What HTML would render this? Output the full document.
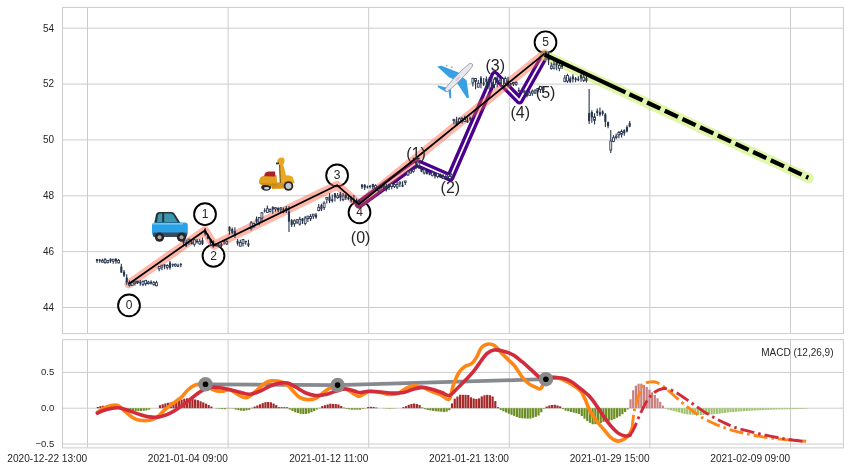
<!DOCTYPE html>
<html><head><meta charset="utf-8"><style>
html,body{margin:0;padding:0;background:#fff;}
svg{display:block;filter:blur(0.45px);}
.ty{font-family:"Liberation Sans",sans-serif;font-size:9.5px;fill:#262626;}
.tx{font-family:"Liberation Sans",sans-serif;font-size:10.15px;fill:#262626;}
.t{font-family:"Liberation Sans",sans-serif;font-size:10px;fill:#262626;}
.c{font-family:"Liberation Sans",sans-serif;font-size:12px;fill:#262626;}
.p{font-family:"Liberation Sans",sans-serif;font-size:16px;fill:#262626;}
</style></head><body>
<svg width="849" height="471" viewBox="0 0 849 471">
<rect width="849" height="471" fill="#fff"/>
<rect x="62.5" y="7.4" width="780.9" height="326.20000000000005" fill="#fff" stroke="#cccccc" stroke-width="1"/>
<line x1="87.5" y1="7.4" x2="87.5" y2="333.6" stroke="#cccccc" stroke-width="1"/>
<line x1="228.1" y1="7.4" x2="228.1" y2="333.6" stroke="#cccccc" stroke-width="1"/>
<line x1="368.7" y1="7.4" x2="368.7" y2="333.6" stroke="#cccccc" stroke-width="1"/>
<line x1="509.3" y1="7.4" x2="509.3" y2="333.6" stroke="#cccccc" stroke-width="1"/>
<line x1="649.9" y1="7.4" x2="649.9" y2="333.6" stroke="#cccccc" stroke-width="1"/>
<line x1="790.5" y1="7.4" x2="790.5" y2="333.6" stroke="#cccccc" stroke-width="1"/>
<line x1="62.5" y1="28.2" x2="843.4" y2="28.2" stroke="#cccccc" stroke-width="1"/>
<line x1="62.5" y1="84.1" x2="843.4" y2="84.1" stroke="#cccccc" stroke-width="1"/>
<line x1="62.5" y1="139.9" x2="843.4" y2="139.9" stroke="#cccccc" stroke-width="1"/>
<line x1="62.5" y1="195.8" x2="843.4" y2="195.8" stroke="#cccccc" stroke-width="1"/>
<line x1="62.5" y1="251.6" x2="843.4" y2="251.6" stroke="#cccccc" stroke-width="1"/>
<line x1="62.5" y1="307.5" x2="843.4" y2="307.5" stroke="#cccccc" stroke-width="1"/>
<rect x="62.5" y="339.7" width="780.9" height="108.19999999999999" fill="#fff" stroke="#cccccc" stroke-width="1"/>
<line x1="87.5" y1="339.7" x2="87.5" y2="447.9" stroke="#cccccc" stroke-width="1"/>
<line x1="228.1" y1="339.7" x2="228.1" y2="447.9" stroke="#cccccc" stroke-width="1"/>
<line x1="368.7" y1="339.7" x2="368.7" y2="447.9" stroke="#cccccc" stroke-width="1"/>
<line x1="509.3" y1="339.7" x2="509.3" y2="447.9" stroke="#cccccc" stroke-width="1"/>
<line x1="649.9" y1="339.7" x2="649.9" y2="447.9" stroke="#cccccc" stroke-width="1"/>
<line x1="790.5" y1="339.7" x2="790.5" y2="447.9" stroke="#cccccc" stroke-width="1"/>
<line x1="62.5" y1="372.4" x2="843.4" y2="372.4" stroke="#cccccc" stroke-width="1"/>
<line x1="62.5" y1="408.2" x2="843.4" y2="408.2" stroke="#cccccc" stroke-width="1"/>
<line x1="62.5" y1="444.0" x2="843.4" y2="444.0" stroke="#cccccc" stroke-width="1"/>
<text x="54" y="31.50" text-anchor="end" class="t">54</text>
<text x="54" y="87.36" text-anchor="end" class="t">52</text>
<text x="54" y="143.22" text-anchor="end" class="t">50</text>
<text x="54" y="199.08" text-anchor="end" class="t">48</text>
<text x="54" y="254.94" text-anchor="end" class="t">46</text>
<text x="54" y="310.80" text-anchor="end" class="t">44</text>
<text transform="translate(54.3,375.30) scale(1,1)" text-anchor="end" class="ty">0.5</text>
<text transform="translate(54.3,411.10) scale(1,1)" text-anchor="end" class="ty">0.0</text>
<text transform="translate(54.3,446.90) scale(1,1)" text-anchor="end" class="ty">−0.5</text>
<text transform="translate(87.20,462.4) scale(1,1)" text-anchor="end" class="tx">2020-12-22 13:00</text>
<text transform="translate(227.80,462.4) scale(1,1)" text-anchor="end" class="tx">2021-01-04 09:00</text>
<text transform="translate(368.40,462.4) scale(1,1)" text-anchor="end" class="tx">2021-01-12 11:00</text>
<text transform="translate(509.00,462.4) scale(1,1)" text-anchor="end" class="tx">2021-01-21 13:00</text>
<text transform="translate(649.60,462.4) scale(1,1)" text-anchor="end" class="tx">2021-01-29 15:00</text>
<text transform="translate(790.20,462.4) scale(1,1)" text-anchor="end" class="tx">2021-02-09 09:00</text>
<text x="833.5" y="355.5" text-anchor="end" class="t">MACD (12,26,9)</text>
<circle cx="129" cy="305.4" r="10.9" fill="#fff" stroke="#000" stroke-width="1.9"/>
<circle cx="205" cy="214.2" r="10.9" fill="#fff" stroke="#000" stroke-width="1.9"/>
<circle cx="213.5" cy="255.8" r="10.9" fill="#fff" stroke="#000" stroke-width="1.9"/>
<circle cx="337.1" cy="175.4" r="10.9" fill="#fff" stroke="#000" stroke-width="1.9"/>
<circle cx="359.5" cy="212.4" r="10.9" fill="#fff" stroke="#000" stroke-width="1.9"/>
<circle cx="545.5" cy="42.3" r="10.9" fill="#fff" stroke="#000" stroke-width="1.9"/>
<polyline points="359,204.3 416.5,162.8 450.2,177.5 494.8,75 519.5,100.3 545,55" fill="none" stroke="#4a008e" stroke-width="8.4" stroke-linejoin="round" stroke-linecap="round"/>
<polyline points="359,204.3 416.5,162.8 450.2,177.5 494.8,75 519.5,100.3 545,55" fill="none" stroke="#fff" stroke-width="1.8" stroke-linejoin="round" stroke-linecap="round"/>
<polyline points="128.7,284 204.9,230.5 214,245.3 337,185.2 359,204.3 544.6,53.6" fill="none" stroke="#ff5a3c" stroke-opacity="0.44" stroke-width="8.8" stroke-linejoin="round" stroke-linecap="round"/>
<line x1="545" y1="55.4" x2="808.7" y2="178.3" stroke="#c2f058" stroke-opacity="0.5" stroke-width="10" stroke-linecap="round"/>
<line x1="97.00" y1="259.0" x2="97.00" y2="262.9" stroke="#26344e" stroke-width="1.1"/>
<rect x="95.95" y="259.1" width="2.1" height="1.9" fill="#26344e"/>
<line x1="99.70" y1="259.2" x2="99.70" y2="262.8" stroke="#26344e" stroke-width="1.1"/>
<rect x="98.65" y="259.3" width="2.1" height="1.5" fill="#26344e"/>
<line x1="102.41" y1="258.8" x2="102.41" y2="262.5" stroke="#26344e" stroke-width="1.1"/>
<rect x="101.46" y="260.6" width="1.9" height="1.5" fill="#fff" stroke="#26344e" stroke-width="0.85"/>
<line x1="105.11" y1="258.0" x2="105.11" y2="263.7" stroke="#26344e" stroke-width="1.1"/>
<rect x="104.16" y="259.4" width="1.9" height="3.3" fill="#fff" stroke="#26344e" stroke-width="0.85"/>
<line x1="107.82" y1="260.1" x2="107.82" y2="263.6" stroke="#26344e" stroke-width="1.1"/>
<rect x="106.87" y="260.5" width="1.9" height="2.0" fill="#fff" stroke="#26344e" stroke-width="0.85"/>
<line x1="110.52" y1="258.4" x2="110.52" y2="262.9" stroke="#26344e" stroke-width="1.1"/>
<rect x="109.47" y="258.8" width="2.1" height="2.4" fill="#26344e"/>
<line x1="113.22" y1="259.0" x2="113.22" y2="263.8" stroke="#26344e" stroke-width="1.1"/>
<rect x="112.27" y="259.2" width="1.9" height="2.1" fill="#fff" stroke="#26344e" stroke-width="0.85"/>
<line x1="115.93" y1="257.9" x2="115.93" y2="263.7" stroke="#26344e" stroke-width="1.1"/>
<rect x="114.88" y="259.0" width="2.1" height="2.3" fill="#26344e"/>
<line x1="118.63" y1="258.9" x2="118.63" y2="263.4" stroke="#26344e" stroke-width="1.1"/>
<rect x="117.68" y="260.4" width="1.9" height="2.4" fill="#fff" stroke="#26344e" stroke-width="0.85"/>
<line x1="121.34" y1="263.7" x2="121.34" y2="273.0" stroke="#26344e" stroke-width="1.1"/>
<rect x="120.29" y="266.6" width="2.1" height="5.9" fill="#26344e"/>
<line x1="124.04" y1="270.1" x2="124.04" y2="277.1" stroke="#26344e" stroke-width="1.1"/>
<rect x="122.99" y="271.8" width="2.1" height="3.9" fill="#26344e"/>
<line x1="126.74" y1="274.3" x2="126.74" y2="284.8" stroke="#26344e" stroke-width="1.1"/>
<rect x="125.69" y="277.6" width="2.1" height="4.8" fill="#26344e"/>
<line x1="129.45" y1="280.4" x2="129.45" y2="286.4" stroke="#26344e" stroke-width="1.1"/>
<rect x="128.50" y="282.7" width="1.9" height="2.5" fill="#fff" stroke="#26344e" stroke-width="0.85"/>
<line x1="132.15" y1="280.7" x2="132.15" y2="285.8" stroke="#26344e" stroke-width="1.1"/>
<rect x="131.20" y="282.4" width="1.9" height="3.0" fill="#fff" stroke="#26344e" stroke-width="0.85"/>
<line x1="134.86" y1="280.3" x2="134.86" y2="285.4" stroke="#26344e" stroke-width="1.1"/>
<rect x="133.91" y="282.0" width="1.9" height="1.3" fill="#fff" stroke="#26344e" stroke-width="0.85"/>
<line x1="137.56" y1="280.9" x2="137.56" y2="284.1" stroke="#26344e" stroke-width="1.1"/>
<rect x="136.61" y="281.1" width="1.9" height="1.7" fill="#fff" stroke="#26344e" stroke-width="0.85"/>
<line x1="140.26" y1="280.0" x2="140.26" y2="285.8" stroke="#26344e" stroke-width="1.1"/>
<rect x="139.21" y="281.8" width="2.1" height="1.6" fill="#26344e"/>
<line x1="142.97" y1="280.6" x2="142.97" y2="286.3" stroke="#26344e" stroke-width="1.1"/>
<rect x="142.02" y="281.3" width="1.9" height="3.1" fill="#fff" stroke="#26344e" stroke-width="0.85"/>
<line x1="145.67" y1="279.9" x2="145.67" y2="285.8" stroke="#26344e" stroke-width="1.1"/>
<rect x="144.72" y="280.3" width="1.9" height="3.4" fill="#fff" stroke="#26344e" stroke-width="0.85"/>
<line x1="148.38" y1="280.8" x2="148.38" y2="284.6" stroke="#26344e" stroke-width="1.1"/>
<rect x="147.43" y="282.1" width="1.9" height="1.6" fill="#fff" stroke="#26344e" stroke-width="0.85"/>
<line x1="151.08" y1="280.2" x2="151.08" y2="284.6" stroke="#26344e" stroke-width="1.1"/>
<rect x="150.03" y="281.8" width="2.1" height="1.7" fill="#26344e"/>
<line x1="153.78" y1="280.9" x2="153.78" y2="285.6" stroke="#26344e" stroke-width="1.1"/>
<rect x="152.83" y="282.6" width="1.9" height="2.2" fill="#fff" stroke="#26344e" stroke-width="0.85"/>
<line x1="156.49" y1="280.7" x2="156.49" y2="286.2" stroke="#26344e" stroke-width="1.1"/>
<rect x="155.54" y="282.7" width="1.9" height="3.1" fill="#fff" stroke="#26344e" stroke-width="0.85"/>
<line x1="159.19" y1="266.3" x2="159.19" y2="271.3" stroke="#26344e" stroke-width="1.1"/>
<rect x="158.24" y="266.4" width="1.9" height="2.4" fill="#fff" stroke="#26344e" stroke-width="0.85"/>
<line x1="161.90" y1="265.0" x2="161.90" y2="270.3" stroke="#26344e" stroke-width="1.1"/>
<rect x="160.95" y="265.2" width="1.9" height="2.0" fill="#fff" stroke="#26344e" stroke-width="0.85"/>
<line x1="164.60" y1="264.3" x2="164.60" y2="269.3" stroke="#26344e" stroke-width="1.1"/>
<rect x="163.55" y="264.4" width="2.1" height="1.9" fill="#26344e"/>
<line x1="167.30" y1="264.3" x2="167.30" y2="269.6" stroke="#26344e" stroke-width="1.1"/>
<rect x="166.35" y="265.5" width="1.9" height="1.8" fill="#fff" stroke="#26344e" stroke-width="0.85"/>
<line x1="170.01" y1="261.0" x2="170.01" y2="269.6" stroke="#26344e" stroke-width="1.1"/>
<rect x="168.96" y="262.6" width="2.1" height="5.2" fill="#26344e"/>
<line x1="172.71" y1="263.6" x2="172.71" y2="266.9" stroke="#26344e" stroke-width="1.1"/>
<rect x="171.66" y="264.1" width="2.1" height="1.2" fill="#26344e"/>
<line x1="175.42" y1="263.6" x2="175.42" y2="266.6" stroke="#26344e" stroke-width="1.1"/>
<rect x="174.47" y="264.2" width="1.9" height="1.8" fill="#fff" stroke="#26344e" stroke-width="0.85"/>
<line x1="178.12" y1="263.8" x2="178.12" y2="266.9" stroke="#26344e" stroke-width="1.1"/>
<rect x="177.07" y="265.5" width="2.1" height="1.3" fill="#26344e"/>
<line x1="180.82" y1="263.3" x2="180.82" y2="267.2" stroke="#26344e" stroke-width="1.1"/>
<rect x="179.77" y="263.7" width="2.1" height="1.5" fill="#26344e"/>
<line x1="183.53" y1="239.4" x2="183.53" y2="246.4" stroke="#26344e" stroke-width="1.1"/>
<rect x="182.48" y="240.4" width="2.1" height="2.5" fill="#26344e"/>
<line x1="186.23" y1="239.7" x2="186.23" y2="246.9" stroke="#26344e" stroke-width="1.1"/>
<rect x="185.18" y="242.5" width="2.1" height="3.8" fill="#26344e"/>
<line x1="188.94" y1="239.0" x2="188.94" y2="244.9" stroke="#26344e" stroke-width="1.1"/>
<rect x="187.99" y="239.1" width="1.9" height="2.2" fill="#fff" stroke="#26344e" stroke-width="0.85"/>
<line x1="191.64" y1="239.3" x2="191.64" y2="244.2" stroke="#26344e" stroke-width="1.1"/>
<rect x="190.59" y="241.7" width="2.1" height="2.4" fill="#26344e"/>
<line x1="194.34" y1="238.6" x2="194.34" y2="246.4" stroke="#26344e" stroke-width="1.1"/>
<rect x="193.39" y="239.8" width="1.9" height="4.5" fill="#fff" stroke="#26344e" stroke-width="0.85"/>
<line x1="197.05" y1="238.9" x2="197.05" y2="243.4" stroke="#26344e" stroke-width="1.1"/>
<rect x="196.00" y="240.8" width="2.1" height="1.5" fill="#26344e"/>
<line x1="199.75" y1="239.0" x2="199.75" y2="244.7" stroke="#26344e" stroke-width="1.1"/>
<rect x="198.80" y="241.3" width="1.9" height="2.7" fill="#fff" stroke="#26344e" stroke-width="0.85"/>
<line x1="202.46" y1="237.6" x2="202.46" y2="245.0" stroke="#26344e" stroke-width="1.1"/>
<rect x="201.41" y="240.2" width="2.1" height="3.9" fill="#26344e"/>
<line x1="205.16" y1="227.9" x2="205.16" y2="235.7" stroke="#26344e" stroke-width="1.1"/>
<rect x="204.11" y="229.2" width="2.1" height="5.1" fill="#26344e"/>
<line x1="207.86" y1="234.0" x2="207.86" y2="239.3" stroke="#26344e" stroke-width="1.1"/>
<rect x="206.81" y="235.6" width="2.1" height="3.2" fill="#26344e"/>
<line x1="210.57" y1="238.7" x2="210.57" y2="245.5" stroke="#26344e" stroke-width="1.1"/>
<rect x="209.52" y="239.0" width="2.1" height="3.9" fill="#26344e"/>
<line x1="213.27" y1="240.3" x2="213.27" y2="247.8" stroke="#26344e" stroke-width="1.1"/>
<rect x="212.22" y="241.2" width="2.1" height="5.5" fill="#26344e"/>
<line x1="215.98" y1="242.9" x2="215.98" y2="246.6" stroke="#26344e" stroke-width="1.1"/>
<rect x="215.03" y="243.9" width="1.9" height="1.3" fill="#fff" stroke="#26344e" stroke-width="0.85"/>
<line x1="218.68" y1="243.8" x2="218.68" y2="246.9" stroke="#26344e" stroke-width="1.1"/>
<rect x="217.63" y="244.9" width="2.1" height="1.3" fill="#26344e"/>
<line x1="221.38" y1="242.7" x2="221.38" y2="247.2" stroke="#26344e" stroke-width="1.1"/>
<rect x="220.33" y="244.1" width="2.1" height="1.9" fill="#26344e"/>
<line x1="224.09" y1="240.2" x2="224.09" y2="244.6" stroke="#26344e" stroke-width="1.1"/>
<rect x="223.04" y="240.2" width="2.1" height="1.4" fill="#26344e"/>
<line x1="226.79" y1="240.3" x2="226.79" y2="244.9" stroke="#26344e" stroke-width="1.1"/>
<rect x="225.84" y="241.6" width="1.9" height="2.3" fill="#fff" stroke="#26344e" stroke-width="0.85"/>
<line x1="229.50" y1="226.3" x2="229.50" y2="234.7" stroke="#26344e" stroke-width="1.1"/>
<rect x="228.45" y="226.8" width="2.1" height="4.4" fill="#26344e"/>
<line x1="232.20" y1="227.5" x2="232.20" y2="234.3" stroke="#26344e" stroke-width="1.1"/>
<rect x="231.15" y="229.1" width="2.1" height="3.6" fill="#26344e"/>
<line x1="234.90" y1="227.3" x2="234.90" y2="237.8" stroke="#26344e" stroke-width="1.1"/>
<rect x="233.85" y="231.1" width="2.1" height="4.2" fill="#26344e"/>
<line x1="237.61" y1="238.9" x2="237.61" y2="245.4" stroke="#26344e" stroke-width="1.1"/>
<rect x="236.56" y="240.9" width="2.1" height="2.7" fill="#26344e"/>
<line x1="240.31" y1="239.7" x2="240.31" y2="246.3" stroke="#26344e" stroke-width="1.1"/>
<rect x="239.36" y="242.5" width="1.9" height="3.7" fill="#fff" stroke="#26344e" stroke-width="0.85"/>
<line x1="243.02" y1="238.9" x2="243.02" y2="246.5" stroke="#26344e" stroke-width="1.1"/>
<rect x="242.07" y="239.4" width="1.9" height="4.1" fill="#fff" stroke="#26344e" stroke-width="0.85"/>
<line x1="245.72" y1="240.7" x2="245.72" y2="244.7" stroke="#26344e" stroke-width="1.1"/>
<rect x="244.67" y="240.9" width="2.1" height="1.4" fill="#26344e"/>
<line x1="248.42" y1="239.7" x2="248.42" y2="247.1" stroke="#26344e" stroke-width="1.1"/>
<rect x="247.37" y="243.4" width="2.1" height="2.2" fill="#26344e"/>
<line x1="251.13" y1="220.9" x2="251.13" y2="230.5" stroke="#26344e" stroke-width="1.1"/>
<rect x="250.18" y="222.8" width="1.9" height="5.6" fill="#fff" stroke="#26344e" stroke-width="0.85"/>
<line x1="253.83" y1="222.7" x2="253.83" y2="227.7" stroke="#26344e" stroke-width="1.1"/>
<rect x="252.88" y="223.4" width="1.9" height="3.4" fill="#fff" stroke="#26344e" stroke-width="0.85"/>
<line x1="256.54" y1="216.5" x2="256.54" y2="223.4" stroke="#26344e" stroke-width="1.1"/>
<rect x="255.49" y="218.7" width="2.1" height="2.8" fill="#26344e"/>
<line x1="259.24" y1="217.0" x2="259.24" y2="225.3" stroke="#26344e" stroke-width="1.1"/>
<rect x="258.29" y="217.5" width="1.9" height="4.7" fill="#fff" stroke="#26344e" stroke-width="0.85"/>
<line x1="261.94" y1="212.1" x2="261.94" y2="221.0" stroke="#26344e" stroke-width="1.1"/>
<rect x="260.99" y="212.8" width="1.9" height="5.3" fill="#fff" stroke="#26344e" stroke-width="0.85"/>
<line x1="264.65" y1="208.2" x2="264.65" y2="212.4" stroke="#26344e" stroke-width="1.1"/>
<rect x="263.60" y="210.3" width="2.1" height="1.1" fill="#26344e"/>
<line x1="267.35" y1="205.6" x2="267.35" y2="213.1" stroke="#26344e" stroke-width="1.1"/>
<rect x="266.40" y="208.8" width="1.9" height="3.6" fill="#fff" stroke="#26344e" stroke-width="0.85"/>
<line x1="270.06" y1="208.5" x2="270.06" y2="212.5" stroke="#26344e" stroke-width="1.1"/>
<rect x="269.11" y="209.3" width="1.9" height="2.2" fill="#fff" stroke="#26344e" stroke-width="0.85"/>
<line x1="272.76" y1="206.3" x2="272.76" y2="213.8" stroke="#26344e" stroke-width="1.1"/>
<rect x="271.71" y="207.0" width="2.1" height="2.6" fill="#26344e"/>
<line x1="275.46" y1="207.5" x2="275.46" y2="211.7" stroke="#26344e" stroke-width="1.1"/>
<rect x="274.51" y="207.7" width="1.9" height="1.3" fill="#fff" stroke="#26344e" stroke-width="0.85"/>
<line x1="278.17" y1="207.2" x2="278.17" y2="212.2" stroke="#26344e" stroke-width="1.1"/>
<rect x="277.12" y="207.9" width="2.1" height="2.6" fill="#26344e"/>
<line x1="280.87" y1="206.9" x2="280.87" y2="212.1" stroke="#26344e" stroke-width="1.1"/>
<rect x="279.92" y="207.9" width="1.9" height="1.3" fill="#fff" stroke="#26344e" stroke-width="0.85"/>
<line x1="283.58" y1="207.4" x2="283.58" y2="213.3" stroke="#26344e" stroke-width="1.1"/>
<rect x="282.53" y="209.3" width="2.1" height="1.9" fill="#26344e"/>
<line x1="286.28" y1="205.9" x2="286.28" y2="212.9" stroke="#26344e" stroke-width="1.1"/>
<rect x="285.23" y="208.0" width="2.1" height="2.8" fill="#26344e"/>
<line x1="288.98" y1="206.0" x2="288.98" y2="232.0" stroke="#26344e" stroke-width="1.1"/>
<rect x="287.93" y="211.5" width="2.1" height="10.1" fill="#26344e"/>
<line x1="291.69" y1="219.1" x2="291.69" y2="226.9" stroke="#26344e" stroke-width="1.1"/>
<rect x="290.64" y="220.2" width="2.1" height="4.7" fill="#26344e"/>
<line x1="294.39" y1="219.2" x2="294.39" y2="226.8" stroke="#26344e" stroke-width="1.1"/>
<rect x="293.44" y="220.8" width="1.9" height="3.0" fill="#fff" stroke="#26344e" stroke-width="0.85"/>
<line x1="297.10" y1="219.1" x2="297.10" y2="224.0" stroke="#26344e" stroke-width="1.1"/>
<rect x="296.15" y="219.7" width="1.9" height="2.5" fill="#fff" stroke="#26344e" stroke-width="0.85"/>
<line x1="299.80" y1="216.8" x2="299.80" y2="225.4" stroke="#26344e" stroke-width="1.1"/>
<rect x="298.85" y="219.3" width="1.9" height="4.8" fill="#fff" stroke="#26344e" stroke-width="0.85"/>
<line x1="302.50" y1="218.0" x2="302.50" y2="223.9" stroke="#26344e" stroke-width="1.1"/>
<rect x="301.45" y="218.5" width="2.1" height="2.4" fill="#26344e"/>
<line x1="305.21" y1="216.0" x2="305.21" y2="225.2" stroke="#26344e" stroke-width="1.1"/>
<rect x="304.26" y="218.0" width="1.9" height="5.4" fill="#fff" stroke="#26344e" stroke-width="0.85"/>
<line x1="307.91" y1="216.1" x2="307.91" y2="222.1" stroke="#26344e" stroke-width="1.1"/>
<rect x="306.96" y="216.1" width="1.9" height="2.3" fill="#fff" stroke="#26344e" stroke-width="0.85"/>
<line x1="310.62" y1="214.1" x2="310.62" y2="221.0" stroke="#26344e" stroke-width="1.1"/>
<rect x="309.67" y="216.5" width="1.9" height="2.2" fill="#fff" stroke="#26344e" stroke-width="0.85"/>
<line x1="313.32" y1="214.0" x2="313.32" y2="219.0" stroke="#26344e" stroke-width="1.1"/>
<rect x="312.37" y="214.2" width="1.9" height="1.9" fill="#fff" stroke="#26344e" stroke-width="0.85"/>
<line x1="316.02" y1="213.1" x2="316.02" y2="218.7" stroke="#26344e" stroke-width="1.1"/>
<rect x="314.97" y="214.7" width="2.1" height="2.6" fill="#26344e"/>
<line x1="318.73" y1="204.0" x2="318.73" y2="211.3" stroke="#26344e" stroke-width="1.1"/>
<rect x="317.78" y="207.3" width="1.9" height="3.3" fill="#fff" stroke="#26344e" stroke-width="0.85"/>
<line x1="321.43" y1="203.7" x2="321.43" y2="211.0" stroke="#26344e" stroke-width="1.1"/>
<rect x="320.38" y="205.2" width="2.1" height="4.2" fill="#26344e"/>
<line x1="324.14" y1="201.3" x2="324.14" y2="209.9" stroke="#26344e" stroke-width="1.1"/>
<rect x="323.19" y="203.1" width="1.9" height="4.3" fill="#fff" stroke="#26344e" stroke-width="0.85"/>
<line x1="326.84" y1="196.9" x2="326.84" y2="203.4" stroke="#26344e" stroke-width="1.1"/>
<rect x="325.89" y="197.5" width="1.9" height="1.7" fill="#fff" stroke="#26344e" stroke-width="0.85"/>
<line x1="329.54" y1="193.1" x2="329.54" y2="203.1" stroke="#26344e" stroke-width="1.1"/>
<rect x="328.49" y="196.6" width="2.1" height="4.5" fill="#26344e"/>
<line x1="332.25" y1="194.4" x2="332.25" y2="202.5" stroke="#26344e" stroke-width="1.1"/>
<rect x="331.20" y="199.2" width="2.1" height="2.0" fill="#26344e"/>
<line x1="334.95" y1="193.1" x2="334.95" y2="201.4" stroke="#26344e" stroke-width="1.1"/>
<rect x="333.90" y="193.4" width="2.1" height="4.0" fill="#26344e"/>
<line x1="337.66" y1="193.1" x2="337.66" y2="198.7" stroke="#26344e" stroke-width="1.1"/>
<rect x="336.71" y="195.8" width="1.9" height="1.9" fill="#fff" stroke="#26344e" stroke-width="0.85"/>
<line x1="340.36" y1="191.9" x2="340.36" y2="201.2" stroke="#26344e" stroke-width="1.1"/>
<rect x="339.31" y="193.9" width="2.1" height="3.9" fill="#26344e"/>
<line x1="343.06" y1="193.1" x2="343.06" y2="201.3" stroke="#26344e" stroke-width="1.1"/>
<rect x="342.11" y="195.9" width="1.9" height="3.8" fill="#fff" stroke="#26344e" stroke-width="0.85"/>
<line x1="345.77" y1="194.1" x2="345.77" y2="199.9" stroke="#26344e" stroke-width="1.1"/>
<rect x="344.72" y="195.0" width="2.1" height="2.9" fill="#26344e"/>
<line x1="348.47" y1="195.1" x2="348.47" y2="199.9" stroke="#26344e" stroke-width="1.1"/>
<rect x="347.42" y="197.3" width="2.1" height="1.7" fill="#26344e"/>
<line x1="351.18" y1="196.6" x2="351.18" y2="202.5" stroke="#26344e" stroke-width="1.1"/>
<rect x="350.13" y="198.1" width="2.1" height="2.5" fill="#26344e"/>
<line x1="353.88" y1="194.9" x2="353.88" y2="203.7" stroke="#26344e" stroke-width="1.1"/>
<rect x="352.83" y="200.7" width="2.1" height="2.8" fill="#26344e"/>
<line x1="356.58" y1="198.4" x2="356.58" y2="202.9" stroke="#26344e" stroke-width="1.1"/>
<rect x="355.53" y="200.5" width="2.1" height="2.4" fill="#26344e"/>
<line x1="359.29" y1="199.6" x2="359.29" y2="203.3" stroke="#26344e" stroke-width="1.1"/>
<rect x="358.24" y="199.9" width="2.1" height="2.1" fill="#26344e"/>
<line x1="361.99" y1="184.2" x2="361.99" y2="188.9" stroke="#26344e" stroke-width="1.1"/>
<rect x="360.94" y="184.5" width="2.1" height="2.7" fill="#26344e"/>
<line x1="364.70" y1="184.1" x2="364.70" y2="190.0" stroke="#26344e" stroke-width="1.1"/>
<rect x="363.65" y="184.8" width="2.1" height="2.9" fill="#26344e"/>
<line x1="367.40" y1="185.4" x2="367.40" y2="188.5" stroke="#26344e" stroke-width="1.1"/>
<rect x="366.35" y="186.5" width="2.1" height="0.9" fill="#26344e"/>
<line x1="370.10" y1="185.0" x2="370.10" y2="188.5" stroke="#26344e" stroke-width="1.1"/>
<rect x="369.05" y="185.7" width="2.1" height="1.3" fill="#26344e"/>
<line x1="372.81" y1="183.7" x2="372.81" y2="189.1" stroke="#26344e" stroke-width="1.1"/>
<rect x="371.76" y="184.0" width="2.1" height="3.0" fill="#26344e"/>
<line x1="375.51" y1="184.3" x2="375.51" y2="190.2" stroke="#26344e" stroke-width="1.1"/>
<rect x="374.56" y="185.7" width="1.9" height="2.1" fill="#fff" stroke="#26344e" stroke-width="0.85"/>
<line x1="378.22" y1="186.4" x2="378.22" y2="192.6" stroke="#26344e" stroke-width="1.1"/>
<rect x="377.27" y="188.1" width="1.9" height="2.3" fill="#fff" stroke="#26344e" stroke-width="0.85"/>
<line x1="380.92" y1="185.4" x2="380.92" y2="189.6" stroke="#26344e" stroke-width="1.1"/>
<rect x="379.87" y="185.9" width="2.1" height="2.3" fill="#26344e"/>
<line x1="383.62" y1="184.8" x2="383.62" y2="189.6" stroke="#26344e" stroke-width="1.1"/>
<rect x="382.67" y="185.3" width="1.9" height="2.1" fill="#fff" stroke="#26344e" stroke-width="0.85"/>
<line x1="386.33" y1="184.0" x2="386.33" y2="191.4" stroke="#26344e" stroke-width="1.1"/>
<rect x="385.28" y="186.2" width="2.1" height="3.9" fill="#26344e"/>
<line x1="389.03" y1="184.1" x2="389.03" y2="190.1" stroke="#26344e" stroke-width="1.1"/>
<rect x="387.98" y="184.2" width="2.1" height="3.0" fill="#26344e"/>
<line x1="391.74" y1="182.4" x2="391.74" y2="189.2" stroke="#26344e" stroke-width="1.1"/>
<rect x="390.79" y="183.4" width="1.9" height="3.2" fill="#fff" stroke="#26344e" stroke-width="0.85"/>
<line x1="394.44" y1="183.8" x2="394.44" y2="188.0" stroke="#26344e" stroke-width="1.1"/>
<rect x="393.49" y="184.6" width="1.9" height="1.8" fill="#fff" stroke="#26344e" stroke-width="0.85"/>
<line x1="397.14" y1="181.2" x2="397.14" y2="188.9" stroke="#26344e" stroke-width="1.1"/>
<rect x="396.19" y="184.5" width="1.9" height="2.6" fill="#fff" stroke="#26344e" stroke-width="0.85"/>
<line x1="399.85" y1="181.5" x2="399.85" y2="186.9" stroke="#26344e" stroke-width="1.1"/>
<rect x="398.90" y="182.1" width="1.9" height="1.7" fill="#fff" stroke="#26344e" stroke-width="0.85"/>
<line x1="402.55" y1="181.2" x2="402.55" y2="187.0" stroke="#26344e" stroke-width="1.1"/>
<rect x="401.50" y="184.8" width="2.1" height="1.9" fill="#26344e"/>
<line x1="405.26" y1="180.8" x2="405.26" y2="185.1" stroke="#26344e" stroke-width="1.1"/>
<rect x="404.31" y="181.0" width="1.9" height="1.4" fill="#fff" stroke="#26344e" stroke-width="0.85"/>
<line x1="407.96" y1="170.2" x2="407.96" y2="176.0" stroke="#26344e" stroke-width="1.1"/>
<rect x="407.01" y="171.8" width="1.9" height="3.2" fill="#fff" stroke="#26344e" stroke-width="0.85"/>
<line x1="410.66" y1="168.7" x2="410.66" y2="173.5" stroke="#26344e" stroke-width="1.1"/>
<rect x="409.71" y="170.9" width="1.9" height="2.1" fill="#fff" stroke="#26344e" stroke-width="0.85"/>
<line x1="413.37" y1="167.9" x2="413.37" y2="172.8" stroke="#26344e" stroke-width="1.1"/>
<rect x="412.42" y="169.3" width="1.9" height="2.0" fill="#fff" stroke="#26344e" stroke-width="0.85"/>
<line x1="416.07" y1="161.9" x2="416.07" y2="169.2" stroke="#26344e" stroke-width="1.1"/>
<rect x="415.02" y="162.0" width="2.1" height="1.9" fill="#26344e"/>
<line x1="418.78" y1="162.8" x2="418.78" y2="168.4" stroke="#26344e" stroke-width="1.1"/>
<rect x="417.83" y="162.8" width="1.9" height="2.6" fill="#fff" stroke="#26344e" stroke-width="0.85"/>
<line x1="421.48" y1="167.7" x2="421.48" y2="172.2" stroke="#26344e" stroke-width="1.1"/>
<rect x="420.43" y="168.3" width="2.1" height="3.3" fill="#26344e"/>
<line x1="424.18" y1="168.3" x2="424.18" y2="174.5" stroke="#26344e" stroke-width="1.1"/>
<rect x="423.23" y="169.7" width="1.9" height="3.3" fill="#fff" stroke="#26344e" stroke-width="0.85"/>
<line x1="426.89" y1="170.5" x2="426.89" y2="174.6" stroke="#26344e" stroke-width="1.1"/>
<rect x="425.84" y="170.9" width="2.1" height="3.0" fill="#26344e"/>
<line x1="429.59" y1="172.2" x2="429.59" y2="175.3" stroke="#26344e" stroke-width="1.1"/>
<rect x="428.54" y="172.9" width="2.1" height="1.8" fill="#26344e"/>
<line x1="432.30" y1="170.8" x2="432.30" y2="176.4" stroke="#26344e" stroke-width="1.1"/>
<rect x="431.35" y="172.3" width="1.9" height="3.1" fill="#fff" stroke="#26344e" stroke-width="0.85"/>
<line x1="435.00" y1="173.1" x2="435.00" y2="178.4" stroke="#26344e" stroke-width="1.1"/>
<rect x="433.95" y="174.5" width="2.1" height="1.9" fill="#26344e"/>
<line x1="437.70" y1="173.1" x2="437.70" y2="178.3" stroke="#26344e" stroke-width="1.1"/>
<rect x="436.75" y="173.6" width="1.9" height="3.0" fill="#fff" stroke="#26344e" stroke-width="0.85"/>
<line x1="440.41" y1="173.6" x2="440.41" y2="178.0" stroke="#26344e" stroke-width="1.1"/>
<rect x="439.36" y="174.1" width="2.1" height="2.1" fill="#26344e"/>
<line x1="443.11" y1="174.0" x2="443.11" y2="178.6" stroke="#26344e" stroke-width="1.1"/>
<rect x="442.16" y="177.0" width="1.9" height="1.5" fill="#fff" stroke="#26344e" stroke-width="0.85"/>
<line x1="445.82" y1="174.5" x2="445.82" y2="178.3" stroke="#26344e" stroke-width="1.1"/>
<rect x="444.87" y="176.4" width="1.9" height="1.2" fill="#fff" stroke="#26344e" stroke-width="0.85"/>
<line x1="448.52" y1="174.2" x2="448.52" y2="178.8" stroke="#26344e" stroke-width="1.1"/>
<rect x="447.57" y="174.9" width="1.9" height="1.5" fill="#fff" stroke="#26344e" stroke-width="0.85"/>
<line x1="451.22" y1="173.2" x2="451.22" y2="179.2" stroke="#26344e" stroke-width="1.1"/>
<rect x="450.27" y="174.8" width="1.9" height="1.8" fill="#fff" stroke="#26344e" stroke-width="0.85"/>
<line x1="453.93" y1="119.1" x2="453.93" y2="124.2" stroke="#26344e" stroke-width="1.1"/>
<rect x="452.98" y="119.3" width="1.9" height="1.4" fill="#fff" stroke="#26344e" stroke-width="0.85"/>
<line x1="456.63" y1="116.8" x2="456.63" y2="125.6" stroke="#26344e" stroke-width="1.1"/>
<rect x="455.58" y="121.2" width="2.1" height="4.5" fill="#26344e"/>
<line x1="459.34" y1="117.2" x2="459.34" y2="122.6" stroke="#26344e" stroke-width="1.1"/>
<rect x="458.39" y="118.9" width="1.9" height="3.1" fill="#fff" stroke="#26344e" stroke-width="0.85"/>
<line x1="462.04" y1="117.1" x2="462.04" y2="123.4" stroke="#26344e" stroke-width="1.1"/>
<rect x="461.09" y="118.4" width="1.9" height="2.4" fill="#fff" stroke="#26344e" stroke-width="0.85"/>
<line x1="464.74" y1="115.8" x2="464.74" y2="121.7" stroke="#26344e" stroke-width="1.1"/>
<rect x="463.79" y="119.3" width="1.9" height="2.2" fill="#fff" stroke="#26344e" stroke-width="0.85"/>
<line x1="467.45" y1="117.5" x2="467.45" y2="123.0" stroke="#26344e" stroke-width="1.1"/>
<rect x="466.40" y="120.3" width="2.1" height="2.1" fill="#26344e"/>
<line x1="470.15" y1="116.6" x2="470.15" y2="121.3" stroke="#26344e" stroke-width="1.1"/>
<rect x="469.10" y="117.6" width="2.1" height="2.0" fill="#26344e"/>
<line x1="472.86" y1="78.1" x2="472.86" y2="86.4" stroke="#26344e" stroke-width="1.1"/>
<rect x="471.91" y="78.2" width="1.9" height="4.7" fill="#fff" stroke="#26344e" stroke-width="0.85"/>
<line x1="475.56" y1="78.2" x2="475.56" y2="89.2" stroke="#26344e" stroke-width="1.1"/>
<rect x="474.61" y="78.5" width="1.9" height="2.9" fill="#fff" stroke="#26344e" stroke-width="0.85"/>
<line x1="478.26" y1="79.9" x2="478.26" y2="87.6" stroke="#26344e" stroke-width="1.1"/>
<rect x="477.31" y="83.3" width="1.9" height="3.9" fill="#fff" stroke="#26344e" stroke-width="0.85"/>
<line x1="480.97" y1="76.0" x2="480.97" y2="88.2" stroke="#26344e" stroke-width="1.1"/>
<rect x="479.92" y="77.7" width="2.1" height="5.7" fill="#26344e"/>
<line x1="483.67" y1="78.1" x2="483.67" y2="85.9" stroke="#26344e" stroke-width="1.1"/>
<rect x="482.62" y="82.5" width="2.1" height="2.0" fill="#26344e"/>
<line x1="486.38" y1="76.6" x2="486.38" y2="88.7" stroke="#26344e" stroke-width="1.1"/>
<rect x="485.33" y="78.7" width="2.1" height="3.1" fill="#26344e"/>
<line x1="489.08" y1="77.2" x2="489.08" y2="89.4" stroke="#26344e" stroke-width="1.1"/>
<rect x="488.03" y="79.0" width="2.1" height="4.7" fill="#26344e"/>
<line x1="491.78" y1="76.0" x2="491.78" y2="88.0" stroke="#26344e" stroke-width="1.1"/>
<rect x="490.73" y="82.6" width="2.1" height="3.8" fill="#26344e"/>
<line x1="494.49" y1="77.3" x2="494.49" y2="88.3" stroke="#26344e" stroke-width="1.1"/>
<rect x="493.54" y="79.2" width="1.9" height="5.1" fill="#fff" stroke="#26344e" stroke-width="0.85"/>
<line x1="497.19" y1="76.1" x2="497.19" y2="87.2" stroke="#26344e" stroke-width="1.1"/>
<rect x="496.14" y="77.7" width="2.1" height="3.1" fill="#26344e"/>
<line x1="499.90" y1="78.2" x2="499.90" y2="84.6" stroke="#26344e" stroke-width="1.1"/>
<rect x="498.95" y="80.8" width="1.9" height="1.7" fill="#fff" stroke="#26344e" stroke-width="0.85"/>
<line x1="502.60" y1="77.3" x2="502.60" y2="89.0" stroke="#26344e" stroke-width="1.1"/>
<rect x="501.65" y="78.5" width="1.9" height="7.0" fill="#fff" stroke="#26344e" stroke-width="0.85"/>
<line x1="505.30" y1="76.4" x2="505.30" y2="85.7" stroke="#26344e" stroke-width="1.1"/>
<rect x="504.35" y="78.5" width="1.9" height="4.6" fill="#fff" stroke="#26344e" stroke-width="0.85"/>
<line x1="508.01" y1="76.8" x2="508.01" y2="86.8" stroke="#26344e" stroke-width="1.1"/>
<rect x="506.96" y="80.6" width="2.1" height="4.9" fill="#26344e"/>
<line x1="510.71" y1="82.9" x2="510.71" y2="85.4" stroke="#26344e" stroke-width="1.1"/>
<rect x="509.66" y="83.2" width="2.1" height="1.4" fill="#26344e"/>
<line x1="513.42" y1="81.9" x2="513.42" y2="85.9" stroke="#26344e" stroke-width="1.1"/>
<rect x="512.47" y="82.5" width="1.9" height="1.3" fill="#fff" stroke="#26344e" stroke-width="0.85"/>
<line x1="516.12" y1="81.5" x2="516.12" y2="85.9" stroke="#26344e" stroke-width="1.1"/>
<rect x="515.17" y="82.3" width="1.9" height="2.0" fill="#fff" stroke="#26344e" stroke-width="0.85"/>
<line x1="518.82" y1="87.6" x2="518.82" y2="92.3" stroke="#26344e" stroke-width="1.1"/>
<rect x="517.77" y="90.1" width="2.1" height="1.5" fill="#26344e"/>
<line x1="521.53" y1="89.4" x2="521.53" y2="92.8" stroke="#26344e" stroke-width="1.1"/>
<rect x="520.48" y="91.0" width="2.1" height="1.4" fill="#26344e"/>
<line x1="524.23" y1="90.6" x2="524.23" y2="93.7" stroke="#26344e" stroke-width="1.1"/>
<rect x="523.28" y="90.8" width="1.9" height="1.1" fill="#fff" stroke="#26344e" stroke-width="0.85"/>
<line x1="526.94" y1="91.4" x2="526.94" y2="97.6" stroke="#26344e" stroke-width="1.1"/>
<rect x="525.89" y="92.4" width="2.1" height="3.5" fill="#26344e"/>
<line x1="529.64" y1="90.7" x2="529.64" y2="95.5" stroke="#26344e" stroke-width="1.1"/>
<rect x="528.69" y="92.9" width="1.9" height="2.5" fill="#fff" stroke="#26344e" stroke-width="0.85"/>
<line x1="532.34" y1="89.5" x2="532.34" y2="95.8" stroke="#26344e" stroke-width="1.1"/>
<rect x="531.39" y="91.1" width="1.9" height="2.0" fill="#fff" stroke="#26344e" stroke-width="0.85"/>
<line x1="535.05" y1="89.1" x2="535.05" y2="93.9" stroke="#26344e" stroke-width="1.1"/>
<rect x="534.10" y="90.8" width="1.9" height="2.2" fill="#fff" stroke="#26344e" stroke-width="0.85"/>
<line x1="537.75" y1="88.0" x2="537.75" y2="93.1" stroke="#26344e" stroke-width="1.1"/>
<rect x="536.80" y="88.5" width="1.9" height="2.5" fill="#fff" stroke="#26344e" stroke-width="0.85"/>
<line x1="540.46" y1="86.1" x2="540.46" y2="93.0" stroke="#26344e" stroke-width="1.1"/>
<rect x="539.51" y="86.3" width="1.9" height="3.1" fill="#fff" stroke="#26344e" stroke-width="0.85"/>
<line x1="543.16" y1="86.9" x2="543.16" y2="92.8" stroke="#26344e" stroke-width="1.1"/>
<rect x="542.21" y="87.1" width="1.9" height="2.8" fill="#fff" stroke="#26344e" stroke-width="0.85"/>
<line x1="545.86" y1="51.1" x2="545.86" y2="57.6" stroke="#26344e" stroke-width="1.1"/>
<rect x="544.81" y="52.4" width="2.1" height="2.3" fill="#26344e"/>
<line x1="548.57" y1="51.7" x2="548.57" y2="65.0" stroke="#26344e" stroke-width="1.1"/>
<rect x="547.52" y="55.2" width="2.1" height="5.0" fill="#26344e"/>
<line x1="551.27" y1="62.5" x2="551.27" y2="69.8" stroke="#26344e" stroke-width="1.1"/>
<rect x="550.32" y="66.1" width="1.9" height="2.3" fill="#fff" stroke="#26344e" stroke-width="0.85"/>
<line x1="553.98" y1="59.1" x2="553.98" y2="69.4" stroke="#26344e" stroke-width="1.1"/>
<rect x="553.03" y="64.2" width="1.9" height="4.1" fill="#fff" stroke="#26344e" stroke-width="0.85"/>
<line x1="556.68" y1="62.3" x2="556.68" y2="70.2" stroke="#26344e" stroke-width="1.1"/>
<rect x="555.63" y="62.4" width="2.1" height="2.4" fill="#26344e"/>
<line x1="559.38" y1="60.8" x2="559.38" y2="71.2" stroke="#26344e" stroke-width="1.1"/>
<rect x="558.43" y="65.4" width="1.9" height="2.9" fill="#fff" stroke="#26344e" stroke-width="0.85"/>
<line x1="562.09" y1="62.8" x2="562.09" y2="68.9" stroke="#26344e" stroke-width="1.1"/>
<rect x="561.04" y="64.9" width="2.1" height="2.1" fill="#26344e"/>
<line x1="564.79" y1="74.9" x2="564.79" y2="81.7" stroke="#26344e" stroke-width="1.1"/>
<rect x="563.84" y="78.0" width="1.9" height="3.7" fill="#fff" stroke="#26344e" stroke-width="0.85"/>
<line x1="567.50" y1="73.8" x2="567.50" y2="82.9" stroke="#26344e" stroke-width="1.1"/>
<rect x="566.55" y="75.6" width="1.9" height="5.4" fill="#fff" stroke="#26344e" stroke-width="0.85"/>
<line x1="570.20" y1="76.6" x2="570.20" y2="83.0" stroke="#26344e" stroke-width="1.1"/>
<rect x="569.15" y="78.3" width="2.1" height="3.6" fill="#26344e"/>
<line x1="572.90" y1="74.2" x2="572.90" y2="82.6" stroke="#26344e" stroke-width="1.1"/>
<rect x="571.85" y="76.5" width="2.1" height="2.7" fill="#26344e"/>
<line x1="575.61" y1="76.9" x2="575.61" y2="82.3" stroke="#26344e" stroke-width="1.1"/>
<rect x="574.56" y="78.3" width="2.1" height="1.8" fill="#26344e"/>
<line x1="578.31" y1="76.2" x2="578.31" y2="81.3" stroke="#26344e" stroke-width="1.1"/>
<rect x="577.26" y="78.7" width="2.1" height="1.7" fill="#26344e"/>
<line x1="581.02" y1="74.6" x2="581.02" y2="81.8" stroke="#26344e" stroke-width="1.1"/>
<rect x="579.97" y="74.7" width="2.1" height="3.7" fill="#26344e"/>
<line x1="583.72" y1="74.6" x2="583.72" y2="82.0" stroke="#26344e" stroke-width="1.1"/>
<rect x="582.77" y="77.2" width="1.9" height="3.3" fill="#fff" stroke="#26344e" stroke-width="0.85"/>
<line x1="586.42" y1="75.2" x2="586.42" y2="82.5" stroke="#26344e" stroke-width="1.1"/>
<rect x="585.37" y="78.1" width="2.1" height="2.9" fill="#26344e"/>
<line x1="589.13" y1="89.0" x2="589.13" y2="124.0" stroke="#26344e" stroke-width="1.1"/>
<rect x="588.08" y="113.0" width="2.1" height="8.0" fill="#26344e"/>
<line x1="591.83" y1="110.3" x2="591.83" y2="122.8" stroke="#26344e" stroke-width="1.1"/>
<rect x="590.78" y="112.0" width="2.1" height="5.3" fill="#26344e"/>
<line x1="594.54" y1="113.2" x2="594.54" y2="124.5" stroke="#26344e" stroke-width="1.1"/>
<rect x="593.59" y="116.9" width="1.9" height="3.5" fill="#fff" stroke="#26344e" stroke-width="0.85"/>
<line x1="597.24" y1="108.4" x2="597.24" y2="116.1" stroke="#26344e" stroke-width="1.1"/>
<rect x="596.19" y="110.8" width="2.1" height="2.2" fill="#26344e"/>
<line x1="599.94" y1="107.6" x2="599.94" y2="116.5" stroke="#26344e" stroke-width="1.1"/>
<rect x="598.89" y="112.3" width="2.1" height="2.5" fill="#26344e"/>
<line x1="602.65" y1="110.2" x2="602.65" y2="115.8" stroke="#26344e" stroke-width="1.1"/>
<rect x="601.60" y="111.4" width="2.1" height="2.4" fill="#26344e"/>
<line x1="605.35" y1="113.1" x2="605.35" y2="126.9" stroke="#26344e" stroke-width="1.1"/>
<rect x="604.30" y="114.3" width="2.1" height="7.6" fill="#26344e"/>
<line x1="608.06" y1="121.6" x2="608.06" y2="128.2" stroke="#26344e" stroke-width="1.1"/>
<rect x="607.01" y="122.2" width="2.1" height="3.9" fill="#26344e"/>
<line x1="610.76" y1="130.0" x2="610.76" y2="153.0" stroke="#26344e" stroke-width="1.1"/>
<rect x="609.81" y="141.0" width="1.9" height="9.0" fill="#fff" stroke="#26344e" stroke-width="0.85"/>
<line x1="613.46" y1="135.2" x2="613.46" y2="142.2" stroke="#26344e" stroke-width="1.1"/>
<rect x="612.51" y="137.7" width="1.9" height="3.7" fill="#fff" stroke="#26344e" stroke-width="0.85"/>
<line x1="616.17" y1="133.5" x2="616.17" y2="139.3" stroke="#26344e" stroke-width="1.1"/>
<rect x="615.22" y="136.2" width="1.9" height="1.2" fill="#fff" stroke="#26344e" stroke-width="0.85"/>
<line x1="618.87" y1="130.9" x2="618.87" y2="138.3" stroke="#26344e" stroke-width="1.1"/>
<rect x="617.92" y="132.5" width="1.9" height="2.4" fill="#fff" stroke="#26344e" stroke-width="0.85"/>
<line x1="621.58" y1="129.6" x2="621.58" y2="137.6" stroke="#26344e" stroke-width="1.1"/>
<rect x="620.63" y="131.4" width="1.9" height="2.9" fill="#fff" stroke="#26344e" stroke-width="0.85"/>
<line x1="624.28" y1="129.3" x2="624.28" y2="135.8" stroke="#26344e" stroke-width="1.1"/>
<rect x="623.23" y="130.1" width="2.1" height="3.1" fill="#26344e"/>
<line x1="626.98" y1="125.2" x2="626.98" y2="132.4" stroke="#26344e" stroke-width="1.1"/>
<rect x="625.93" y="127.0" width="2.1" height="4.3" fill="#26344e"/>
<line x1="629.69" y1="120.9" x2="629.69" y2="127.2" stroke="#26344e" stroke-width="1.1"/>
<rect x="628.64" y="123.1" width="2.1" height="3.5" fill="#26344e"/>
<polyline points="128.7,284 204.9,230.5 214,245.3 337,185.2 359,204.3 544.6,53.6" fill="none" stroke="#000" stroke-width="1.75" stroke-linejoin="round"/>
<line x1="544.6" y1="54.6" x2="625.5" y2="92.4" stroke="#000" stroke-width="4.3"/>
<line x1="629.4" y1="94.2" x2="808.3" y2="177.7" stroke="#000" stroke-width="4.3" stroke-dasharray="14.6 4.9"/>
<text x="129" y="309.3" text-anchor="middle" class="c">0</text>
<text x="205" y="218.1" text-anchor="middle" class="c">1</text>
<text x="213.5" y="259.7" text-anchor="middle" class="c">2</text>
<text x="337.1" y="179.3" text-anchor="middle" class="c">3</text>
<text x="359.5" y="216.3" text-anchor="middle" class="c">4</text>
<text x="545.5" y="46.2" text-anchor="middle" class="c">5</text>
<text x="360.6" y="243.1" text-anchor="middle" class="p">(0)</text>
<text x="416" y="158.6" text-anchor="middle" class="p">(1)</text>
<text x="450.4" y="192.5" text-anchor="middle" class="p">(2)</text>
<text x="495.3" y="71.2" text-anchor="middle" class="p">(3)</text>
<text x="520.3" y="118.3" text-anchor="middle" class="p">(4)</text>
<text x="545.6" y="98.2" text-anchor="middle" class="p">(5)</text>
<rect x="96.70" y="407.00" width="2.2" height="1.20" fill="#a42828"/>
<rect x="99.40" y="406.20" width="2.2" height="2.00" fill="#a42828"/>
<rect x="102.11" y="405.74" width="2.2" height="2.46" fill="#a42828"/>
<rect x="104.81" y="406.28" width="2.2" height="1.92" fill="#a42828"/>
<rect x="107.52" y="407.01" width="2.2" height="1.19" fill="#a42828"/>
<rect x="123.74" y="408.20" width="2.2" height="0.92" fill="#6b8e23"/>
<rect x="126.44" y="408.20" width="2.2" height="1.64" fill="#6b8e23"/>
<rect x="129.15" y="408.20" width="2.2" height="2.31" fill="#6b8e23"/>
<rect x="131.85" y="408.20" width="2.2" height="2.61" fill="#6b8e23"/>
<rect x="134.56" y="408.20" width="2.2" height="2.76" fill="#6b8e23"/>
<rect x="137.26" y="408.20" width="2.2" height="2.91" fill="#6b8e23"/>
<rect x="139.96" y="408.20" width="2.2" height="2.87" fill="#6b8e23"/>
<rect x="142.67" y="408.20" width="2.2" height="2.53" fill="#6b8e23"/>
<rect x="145.37" y="408.20" width="2.2" height="2.19" fill="#6b8e23"/>
<rect x="148.08" y="408.20" width="2.2" height="1.41" fill="#6b8e23"/>
<rect x="158.89" y="405.21" width="2.2" height="2.99" fill="#a42828"/>
<rect x="161.60" y="404.30" width="2.2" height="3.90" fill="#a42828"/>
<rect x="164.30" y="403.40" width="2.2" height="4.80" fill="#a42828"/>
<rect x="167.00" y="402.85" width="2.2" height="5.35" fill="#a42828"/>
<rect x="169.71" y="402.40" width="2.2" height="5.80" fill="#a42828"/>
<rect x="172.41" y="401.82" width="2.2" height="6.38" fill="#a42828"/>
<rect x="175.12" y="401.15" width="2.2" height="7.05" fill="#a42828"/>
<rect x="177.82" y="400.47" width="2.2" height="7.73" fill="#a42828"/>
<rect x="180.52" y="399.66" width="2.2" height="8.54" fill="#a42828"/>
<rect x="183.23" y="398.76" width="2.2" height="9.44" fill="#a42828"/>
<rect x="185.93" y="398.29" width="2.2" height="9.91" fill="#a42828"/>
<rect x="188.64" y="398.51" width="2.2" height="9.69" fill="#a42828"/>
<rect x="191.34" y="398.81" width="2.2" height="9.39" fill="#a42828"/>
<rect x="194.04" y="399.49" width="2.2" height="8.71" fill="#a42828"/>
<rect x="196.75" y="400.16" width="2.2" height="8.04" fill="#a42828"/>
<rect x="199.45" y="401.26" width="2.2" height="6.94" fill="#a42828"/>
<rect x="202.16" y="402.39" width="2.2" height="5.81" fill="#a42828"/>
<rect x="204.86" y="403.68" width="2.2" height="4.52" fill="#a42828"/>
<rect x="207.56" y="405.03" width="2.2" height="3.17" fill="#a42828"/>
<rect x="210.27" y="406.56" width="2.2" height="1.64" fill="#a42828"/>
<rect x="215.68" y="408.20" width="2.2" height="0.35" fill="#6b8e23"/>
<rect x="218.38" y="408.20" width="2.2" height="0.61" fill="#6b8e23"/>
<rect x="221.08" y="408.20" width="2.2" height="0.80" fill="#6b8e23"/>
<rect x="223.79" y="408.20" width="2.2" height="0.99" fill="#6b8e23"/>
<rect x="226.49" y="407.90" width="2.2" height="0.30" fill="#a42828"/>
<rect x="229.20" y="407.99" width="2.2" height="0.21" fill="#a42828"/>
<rect x="231.90" y="408.20" width="2.2" height="0.38" fill="#6b8e23"/>
<rect x="234.60" y="408.20" width="2.2" height="1.39" fill="#6b8e23"/>
<rect x="237.31" y="408.20" width="2.2" height="1.95" fill="#6b8e23"/>
<rect x="240.01" y="408.20" width="2.2" height="2.45" fill="#6b8e23"/>
<rect x="242.72" y="408.20" width="2.2" height="2.65" fill="#6b8e23"/>
<rect x="245.42" y="408.20" width="2.2" height="2.15" fill="#6b8e23"/>
<rect x="248.12" y="408.20" width="2.2" height="1.64" fill="#6b8e23"/>
<rect x="250.83" y="407.77" width="2.2" height="0.43" fill="#a42828"/>
<rect x="253.53" y="406.60" width="2.2" height="1.60" fill="#a42828"/>
<rect x="256.24" y="405.48" width="2.2" height="2.72" fill="#a42828"/>
<rect x="258.94" y="404.33" width="2.2" height="3.87" fill="#a42828"/>
<rect x="261.64" y="403.17" width="2.2" height="5.03" fill="#a42828"/>
<rect x="264.35" y="402.17" width="2.2" height="6.03" fill="#a42828"/>
<rect x="267.05" y="402.01" width="2.2" height="6.19" fill="#a42828"/>
<rect x="269.76" y="402.29" width="2.2" height="5.91" fill="#a42828"/>
<rect x="272.46" y="403.54" width="2.2" height="4.66" fill="#a42828"/>
<rect x="275.16" y="405.15" width="2.2" height="3.05" fill="#a42828"/>
<rect x="277.87" y="407.18" width="2.2" height="1.02" fill="#a42828"/>
<rect x="280.57" y="407.20" width="2.2" height="1.00" fill="#a42828"/>
<rect x="283.28" y="407.20" width="2.2" height="1.00" fill="#a42828"/>
<rect x="285.98" y="407.28" width="2.2" height="0.92" fill="#a42828"/>
<rect x="288.68" y="408.20" width="2.2" height="1.39" fill="#6b8e23"/>
<rect x="291.39" y="408.20" width="2.2" height="2.74" fill="#6b8e23"/>
<rect x="294.09" y="408.20" width="2.2" height="4.05" fill="#6b8e23"/>
<rect x="296.80" y="408.20" width="2.2" height="4.83" fill="#6b8e23"/>
<rect x="299.50" y="408.20" width="2.2" height="5.60" fill="#6b8e23"/>
<rect x="302.20" y="408.20" width="2.2" height="5.89" fill="#6b8e23"/>
<rect x="304.91" y="408.20" width="2.2" height="5.67" fill="#6b8e23"/>
<rect x="307.61" y="408.20" width="2.2" height="5.20" fill="#6b8e23"/>
<rect x="310.32" y="408.20" width="2.2" height="4.08" fill="#6b8e23"/>
<rect x="313.02" y="408.20" width="2.2" height="2.93" fill="#6b8e23"/>
<rect x="315.72" y="408.20" width="2.2" height="1.31" fill="#6b8e23"/>
<rect x="318.43" y="407.85" width="2.2" height="0.35" fill="#a42828"/>
<rect x="321.13" y="406.13" width="2.2" height="2.07" fill="#a42828"/>
<rect x="323.84" y="405.28" width="2.2" height="2.92" fill="#a42828"/>
<rect x="326.54" y="404.44" width="2.2" height="3.76" fill="#a42828"/>
<rect x="329.24" y="403.72" width="2.2" height="4.48" fill="#a42828"/>
<rect x="331.95" y="403.89" width="2.2" height="4.31" fill="#a42828"/>
<rect x="334.65" y="404.06" width="2.2" height="4.14" fill="#a42828"/>
<rect x="337.36" y="404.47" width="2.2" height="3.73" fill="#a42828"/>
<rect x="340.06" y="406.10" width="2.2" height="2.10" fill="#a42828"/>
<rect x="342.76" y="407.63" width="2.2" height="0.57" fill="#a42828"/>
<rect x="345.47" y="408.20" width="2.2" height="0.78" fill="#6b8e23"/>
<rect x="348.17" y="408.20" width="2.2" height="1.23" fill="#6b8e23"/>
<rect x="350.88" y="408.20" width="2.2" height="1.50" fill="#6b8e23"/>
<rect x="353.58" y="408.20" width="2.2" height="1.50" fill="#6b8e23"/>
<rect x="356.28" y="408.20" width="2.2" height="1.50" fill="#6b8e23"/>
<rect x="358.99" y="408.20" width="2.2" height="1.47" fill="#6b8e23"/>
<rect x="361.69" y="408.20" width="2.2" height="0.66" fill="#6b8e23"/>
<rect x="364.40" y="407.95" width="2.2" height="0.25" fill="#a42828"/>
<rect x="367.10" y="407.08" width="2.2" height="1.12" fill="#a42828"/>
<rect x="369.80" y="406.81" width="2.2" height="1.39" fill="#a42828"/>
<rect x="372.51" y="407.02" width="2.2" height="1.18" fill="#a42828"/>
<rect x="375.21" y="407.56" width="2.2" height="0.64" fill="#a42828"/>
<rect x="383.32" y="408.20" width="2.2" height="0.22" fill="#6b8e23"/>
<rect x="386.03" y="408.20" width="2.2" height="0.36" fill="#6b8e23"/>
<rect x="388.73" y="408.20" width="2.2" height="0.49" fill="#6b8e23"/>
<rect x="391.44" y="408.20" width="2.2" height="0.37" fill="#6b8e23"/>
<rect x="394.14" y="408.20" width="2.2" height="0.24" fill="#6b8e23"/>
<rect x="402.25" y="407.19" width="2.2" height="1.01" fill="#a42828"/>
<rect x="404.96" y="406.17" width="2.2" height="2.03" fill="#a42828"/>
<rect x="407.66" y="404.82" width="2.2" height="3.38" fill="#a42828"/>
<rect x="410.36" y="403.97" width="2.2" height="4.23" fill="#a42828"/>
<rect x="413.07" y="403.53" width="2.2" height="4.67" fill="#a42828"/>
<rect x="415.77" y="404.07" width="2.2" height="4.13" fill="#a42828"/>
<rect x="418.48" y="405.05" width="2.2" height="3.15" fill="#a42828"/>
<rect x="421.18" y="407.48" width="2.2" height="0.72" fill="#a42828"/>
<rect x="423.88" y="408.20" width="2.2" height="0.99" fill="#6b8e23"/>
<rect x="426.59" y="408.20" width="2.2" height="1.78" fill="#6b8e23"/>
<rect x="429.29" y="408.20" width="2.2" height="2.23" fill="#6b8e23"/>
<rect x="432.00" y="408.20" width="2.2" height="2.68" fill="#6b8e23"/>
<rect x="434.70" y="408.20" width="2.2" height="3.06" fill="#6b8e23"/>
<rect x="437.40" y="408.20" width="2.2" height="3.28" fill="#6b8e23"/>
<rect x="440.11" y="408.20" width="2.2" height="3.50" fill="#6b8e23"/>
<rect x="442.81" y="408.20" width="2.2" height="3.71" fill="#6b8e23"/>
<rect x="445.52" y="408.20" width="2.2" height="3.48" fill="#6b8e23"/>
<rect x="448.22" y="408.20" width="2.2" height="2.04" fill="#6b8e23"/>
<rect x="450.92" y="403.41" width="2.2" height="4.79" fill="#a42828"/>
<rect x="453.63" y="398.68" width="2.2" height="9.52" fill="#a42828"/>
<rect x="456.33" y="396.55" width="2.2" height="11.65" fill="#a42828"/>
<rect x="459.04" y="394.80" width="2.2" height="13.40" fill="#a42828"/>
<rect x="461.74" y="394.80" width="2.2" height="13.40" fill="#a42828"/>
<rect x="464.44" y="394.80" width="2.2" height="13.40" fill="#a42828"/>
<rect x="467.15" y="395.01" width="2.2" height="13.19" fill="#a42828"/>
<rect x="469.85" y="397.31" width="2.2" height="10.89" fill="#a42828"/>
<rect x="472.56" y="398.48" width="2.2" height="9.72" fill="#a42828"/>
<rect x="475.26" y="398.93" width="2.2" height="9.27" fill="#a42828"/>
<rect x="477.96" y="398.40" width="2.2" height="9.80" fill="#a42828"/>
<rect x="480.67" y="396.37" width="2.2" height="11.83" fill="#a42828"/>
<rect x="483.37" y="395.27" width="2.2" height="12.93" fill="#a42828"/>
<rect x="486.08" y="394.85" width="2.2" height="13.35" fill="#a42828"/>
<rect x="488.78" y="395.19" width="2.2" height="13.01" fill="#a42828"/>
<rect x="491.48" y="396.49" width="2.2" height="11.71" fill="#a42828"/>
<rect x="494.19" y="401.06" width="2.2" height="7.14" fill="#a42828"/>
<rect x="496.89" y="407.19" width="2.2" height="1.01" fill="#a42828"/>
<rect x="499.60" y="408.20" width="2.2" height="1.70" fill="#6b8e23"/>
<rect x="502.30" y="408.20" width="2.2" height="3.07" fill="#6b8e23"/>
<rect x="505.00" y="408.20" width="2.2" height="4.27" fill="#6b8e23"/>
<rect x="507.71" y="408.20" width="2.2" height="5.47" fill="#6b8e23"/>
<rect x="510.41" y="408.20" width="2.2" height="6.60" fill="#6b8e23"/>
<rect x="513.12" y="408.20" width="2.2" height="7.69" fill="#6b8e23"/>
<rect x="515.82" y="408.20" width="2.2" height="8.77" fill="#6b8e23"/>
<rect x="518.52" y="408.20" width="2.2" height="9.85" fill="#6b8e23"/>
<rect x="521.23" y="408.20" width="2.2" height="10.12" fill="#6b8e23"/>
<rect x="523.93" y="408.20" width="2.2" height="10.25" fill="#6b8e23"/>
<rect x="526.64" y="408.20" width="2.2" height="10.39" fill="#6b8e23"/>
<rect x="529.34" y="408.20" width="2.2" height="10.36" fill="#6b8e23"/>
<rect x="532.04" y="408.20" width="2.2" height="9.52" fill="#6b8e23"/>
<rect x="534.75" y="408.20" width="2.2" height="8.67" fill="#6b8e23"/>
<rect x="537.45" y="408.20" width="2.2" height="7.34" fill="#6b8e23"/>
<rect x="540.16" y="408.20" width="2.2" height="4.09" fill="#6b8e23"/>
<rect x="542.86" y="408.20" width="2.2" height="0.56" fill="#6b8e23"/>
<rect x="545.56" y="406.53" width="2.2" height="1.67" fill="#a42828"/>
<rect x="548.27" y="405.45" width="2.2" height="2.75" fill="#a42828"/>
<rect x="550.97" y="404.99" width="2.2" height="3.21" fill="#a42828"/>
<rect x="553.68" y="404.72" width="2.2" height="3.48" fill="#a42828"/>
<rect x="556.38" y="405.44" width="2.2" height="2.76" fill="#a42828"/>
<rect x="559.08" y="406.38" width="2.2" height="1.82" fill="#a42828"/>
<rect x="561.79" y="408.20" width="2.2" height="0.89" fill="#6b8e23"/>
<rect x="564.49" y="408.20" width="2.2" height="2.40" fill="#6b8e23"/>
<rect x="567.20" y="408.20" width="2.2" height="3.07" fill="#6b8e23"/>
<rect x="569.90" y="408.20" width="2.2" height="3.75" fill="#6b8e23"/>
<rect x="572.60" y="408.20" width="2.2" height="4.43" fill="#6b8e23"/>
<rect x="575.31" y="408.20" width="2.2" height="5.10" fill="#6b8e23"/>
<rect x="578.01" y="408.20" width="2.2" height="5.78" fill="#6b8e23"/>
<rect x="580.72" y="408.20" width="2.2" height="7.82" fill="#6b8e23"/>
<rect x="583.42" y="408.20" width="2.2" height="10.52" fill="#6b8e23"/>
<rect x="586.12" y="408.20" width="2.2" height="12.82" fill="#6b8e23"/>
<rect x="588.83" y="408.20" width="2.2" height="14.62" fill="#6b8e23"/>
<rect x="591.53" y="408.20" width="2.2" height="16.00" fill="#6b8e23"/>
<rect x="594.24" y="408.20" width="2.2" height="16.00" fill="#6b8e23"/>
<rect x="596.94" y="408.20" width="2.2" height="15.98" fill="#6b8e23"/>
<rect x="599.64" y="408.20" width="2.2" height="14.82" fill="#6b8e23"/>
<rect x="602.35" y="408.20" width="2.2" height="13.67" fill="#6b8e23"/>
<rect x="605.05" y="408.20" width="2.2" height="12.84" fill="#6b8e23"/>
<rect x="607.76" y="408.20" width="2.2" height="12.45" fill="#6b8e23"/>
<rect x="610.46" y="408.20" width="2.2" height="12.06" fill="#6b8e23"/>
<rect x="613.16" y="408.20" width="2.2" height="10.87" fill="#6b8e23"/>
<rect x="615.87" y="408.20" width="2.2" height="9.52" fill="#6b8e23"/>
<rect x="618.57" y="408.20" width="2.2" height="8.16" fill="#6b8e23"/>
<rect x="621.28" y="408.20" width="2.2" height="6.02" fill="#6b8e23"/>
<rect x="623.98" y="408.20" width="2.2" height="3.77" fill="#6b8e23"/>
<rect x="626.68" y="408.20" width="2.2" height="1.22" fill="#6b8e23"/>
<rect x="629.39" y="399.27" width="2.2" height="8.93" fill="#c98080"/>
<rect x="632.09" y="390.35" width="2.2" height="17.85" fill="#c98080"/>
<rect x="634.80" y="385.67" width="2.2" height="22.53" fill="#c98080"/>
<rect x="637.50" y="383.67" width="2.2" height="24.53" fill="#c98080"/>
<rect x="640.20" y="383.63" width="2.2" height="24.57" fill="#c98080"/>
<rect x="642.91" y="384.87" width="2.2" height="23.33" fill="#c98080"/>
<rect x="645.61" y="386.91" width="2.2" height="21.29" fill="#c98080"/>
<rect x="648.32" y="389.62" width="2.2" height="18.58" fill="#c98080"/>
<rect x="651.02" y="392.32" width="2.2" height="15.88" fill="#c98080"/>
<rect x="653.72" y="395.02" width="2.2" height="13.18" fill="#c98080"/>
<rect x="656.43" y="398.24" width="2.2" height="9.96" fill="#c98080"/>
<rect x="659.13" y="401.84" width="2.2" height="6.36" fill="#c98080"/>
<rect x="661.84" y="405.60" width="2.2" height="2.60" fill="#c98080"/>
<rect x="664.54" y="408.20" width="2.2" height="0.64" fill="#a0c270"/>
<rect x="667.24" y="408.20" width="2.2" height="1.52" fill="#a0c270"/>
<rect x="669.95" y="408.20" width="2.2" height="2.12" fill="#a0c270"/>
<rect x="672.65" y="408.20" width="2.2" height="2.72" fill="#a0c270"/>
<rect x="675.36" y="408.20" width="2.2" height="3.44" fill="#a0c270"/>
<rect x="678.06" y="408.20" width="2.2" height="4.25" fill="#a0c270"/>
<rect x="680.76" y="408.20" width="2.2" height="5.06" fill="#a0c270"/>
<rect x="683.47" y="408.20" width="2.2" height="5.87" fill="#a0c270"/>
<rect x="686.17" y="408.20" width="2.2" height="6.15" fill="#a0c270"/>
<rect x="688.88" y="408.20" width="2.2" height="6.33" fill="#a0c270"/>
<rect x="691.58" y="408.20" width="2.2" height="6.51" fill="#a0c270"/>
<rect x="694.28" y="408.20" width="2.2" height="6.69" fill="#a0c270"/>
<rect x="696.99" y="408.20" width="2.2" height="6.87" fill="#a0c270"/>
<rect x="699.69" y="408.20" width="2.2" height="6.95" fill="#a0c270"/>
<rect x="702.40" y="408.20" width="2.2" height="6.77" fill="#a0c270"/>
<rect x="705.10" y="408.20" width="2.2" height="6.59" fill="#a0c270"/>
<rect x="707.80" y="408.20" width="2.2" height="6.41" fill="#a0c270"/>
<rect x="710.51" y="408.20" width="2.2" height="6.23" fill="#a0c270"/>
<rect x="713.21" y="408.20" width="2.2" height="6.05" fill="#a0c270"/>
<rect x="715.92" y="408.20" width="2.2" height="5.73" fill="#a0c270"/>
<rect x="718.62" y="408.20" width="2.2" height="5.37" fill="#a0c270"/>
<rect x="721.32" y="408.20" width="2.2" height="5.01" fill="#a0c270"/>
<rect x="724.03" y="408.20" width="2.2" height="4.65" fill="#a0c270"/>
<rect x="726.73" y="408.20" width="2.2" height="4.29" fill="#a0c270"/>
<rect x="729.44" y="408.20" width="2.2" height="3.96" fill="#a0c270"/>
<rect x="732.14" y="408.20" width="2.2" height="3.76" fill="#a0c270"/>
<rect x="734.84" y="408.20" width="2.2" height="3.55" fill="#a0c270"/>
<rect x="737.55" y="408.20" width="2.2" height="3.35" fill="#a0c270"/>
<rect x="740.25" y="408.20" width="2.2" height="3.15" fill="#a0c270"/>
<rect x="742.96" y="408.20" width="2.2" height="2.95" fill="#a0c270"/>
<rect x="745.66" y="408.20" width="2.2" height="2.74" fill="#a0c270"/>
<rect x="748.36" y="408.20" width="2.2" height="2.54" fill="#a0c270"/>
<rect x="751.07" y="408.20" width="2.2" height="2.39" fill="#a0c270"/>
<rect x="753.77" y="408.20" width="2.2" height="2.26" fill="#a0c270"/>
<rect x="756.48" y="408.20" width="2.2" height="2.12" fill="#a0c270"/>
<rect x="759.18" y="408.20" width="2.2" height="1.99" fill="#a0c270"/>
<rect x="761.88" y="408.20" width="2.2" height="1.85" fill="#a0c270"/>
<rect x="764.59" y="408.20" width="2.2" height="1.72" fill="#a0c270"/>
<rect x="767.29" y="408.20" width="2.2" height="1.58" fill="#a0c270"/>
<rect x="770.00" y="408.20" width="2.2" height="1.47" fill="#a0c270"/>
<rect x="772.70" y="408.20" width="2.2" height="1.41" fill="#a0c270"/>
<rect x="775.40" y="408.20" width="2.2" height="1.34" fill="#a0c270"/>
<rect x="778.11" y="408.20" width="2.2" height="1.27" fill="#a0c270"/>
<rect x="780.81" y="408.20" width="2.2" height="1.20" fill="#a0c270"/>
<rect x="783.52" y="408.20" width="2.2" height="1.13" fill="#a0c270"/>
<rect x="786.22" y="408.20" width="2.2" height="1.07" fill="#a0c270"/>
<rect x="788.92" y="408.20" width="2.2" height="1.00" fill="#a0c270"/>
<rect x="791.63" y="408.20" width="2.2" height="0.91" fill="#a0c270"/>
<rect x="794.33" y="408.20" width="2.2" height="0.83" fill="#a0c270"/>
<rect x="797.04" y="408.20" width="2.2" height="0.75" fill="#a0c270"/>
<rect x="799.74" y="408.20" width="2.2" height="0.66" fill="#a0c270"/>
<rect x="802.44" y="408.20" width="2.2" height="0.58" fill="#a0c270"/>
<rect x="805.15" y="408.20" width="2.2" height="0.50" fill="#a0c270"/>
<polyline points="205.5,384.3 337.6,385.1 545.9,379.2" fill="none" stroke="#868a90" stroke-width="3.8"/>
<path d="M97.4,412.4 C98.9,411.5 103.2,408.2 106.5,407.0 C109.8,405.8 114.2,404.6 117.2,405.3 C120.2,406.0 122.0,409.0 124.6,411.1 C127.2,413.2 130.4,416.2 132.9,417.7 C135.4,419.2 136.8,419.8 139.5,420.2 C142.2,420.6 146.4,420.8 149.4,420.2 C152.4,419.6 155.1,418.5 157.6,416.9 C160.1,415.2 161.7,412.5 164.2,410.3 C166.7,408.1 169.8,405.8 172.5,403.7 C175.2,401.6 178.2,400.1 180.7,397.9 C183.2,395.7 185.1,392.6 187.3,390.5 C189.5,388.4 191.8,386.6 193.9,385.6 C196.0,384.6 197.8,384.3 199.7,384.4 C201.6,384.5 202.8,385.4 205.4,386.4 C208.0,387.4 212.6,389.7 215.3,390.5 C218.1,391.3 219.5,391.4 221.9,391.3 C224.3,391.2 227.2,389.1 229.9,389.7 C232.6,390.2 235.3,393.3 238.1,394.6 C240.8,395.9 243.7,398.0 246.4,397.6 C249.2,397.2 251.8,394.4 254.6,392.2 C257.3,390.0 260.4,386.5 262.9,384.7 C265.4,382.9 267.0,381.7 269.5,381.1 C272.0,380.5 274.9,380.6 277.7,381.1 C280.4,381.6 283.5,382.3 286.0,383.9 C288.5,385.5 290.4,388.3 292.6,390.5 C294.8,392.7 296.7,395.6 299.2,397.1 C301.7,398.6 304.7,399.4 307.4,399.6 C310.1,399.8 312.9,399.5 315.6,398.3 C318.4,397.1 321.4,393.9 323.9,392.2 C326.4,390.5 328.0,388.8 330.5,388.0 C333.0,387.2 335.9,386.9 338.7,387.2 C341.4,387.5 344.2,388.5 347.0,389.7 C349.8,390.9 353.1,393.5 355.2,394.6 C357.3,395.7 357.2,396.8 359.5,396.3 C361.8,395.8 365.9,392.3 369.1,391.6 C372.3,390.9 375.4,391.5 378.6,392.0 C381.8,392.5 385.0,394.1 388.2,394.4 C391.4,394.6 394.5,394.6 397.7,393.5 C400.9,392.4 404.4,389.0 407.3,387.7 C410.2,386.4 412.3,385.9 414.9,385.8 C417.4,385.8 419.7,386.4 422.6,387.4 C425.5,388.4 428.9,390.3 432.1,391.6 C435.3,392.9 438.8,394.1 441.7,395.4 C444.6,396.7 447.4,400.8 449.3,399.2 C451.2,397.6 451.5,390.2 453.1,385.8 C454.7,381.4 457.0,375.7 458.9,372.5 C460.8,369.3 462.5,368.1 464.6,366.7 C466.7,365.3 469.4,365.3 471.3,363.9 C473.2,362.5 474.3,360.8 476.0,358.1 C477.7,355.4 479.7,349.8 481.5,347.5 C483.3,345.2 484.9,344.6 487.0,344.2 C489.1,343.8 491.7,343.9 494.0,345.3 C496.3,346.7 498.7,350.0 501.0,352.4 C503.3,354.8 505.7,357.1 508.0,359.4 C510.3,361.7 512.7,363.5 515.0,366.4 C517.3,369.3 519.7,374.0 522.0,376.9 C524.3,379.8 526.7,382.1 529.0,383.9 C531.3,385.6 534.0,386.6 536.0,387.4 C538.0,388.2 539.2,389.7 540.7,388.6 C542.2,387.5 543.0,382.9 545.0,381.0 C547.0,379.1 549.6,377.2 552.4,376.9 C555.2,376.6 558.7,378.0 561.8,379.2 C564.9,380.4 568.0,381.9 571.1,383.9 C574.2,385.8 578.1,388.4 580.4,390.9 C582.7,393.4 583.5,395.8 585.1,399.1 C586.7,402.4 587.8,407.0 589.8,410.7 C591.8,414.4 594.5,418.2 596.8,421.3 C599.1,424.4 601.5,426.7 603.8,429.4 C606.1,432.1 608.5,435.7 610.8,437.6 C613.1,439.6 615.5,440.9 617.8,441.1 C620.1,441.3 622.8,440.0 624.8,438.8 C626.8,437.6 628.3,435.7 629.5,434.1 C630.7,432.5 631.6,429.9 632.0,429.0" fill="none" stroke="#ff8515" stroke-width="3.6" stroke-linecap="round" stroke-linejoin="round"/>
<path d="M97.4,413.1 C98.9,412.5 103.1,410.4 106.5,409.5 C109.9,408.6 114.4,407.7 118.0,407.8 C121.6,407.9 124.3,409.2 127.9,410.3 C131.5,411.4 135.9,413.3 139.5,414.4 C143.1,415.5 146.1,416.5 149.4,416.9 C152.7,417.3 156.0,417.4 159.3,416.9 C162.6,416.3 165.9,415.1 169.2,413.6 C172.5,412.1 175.7,410.0 179.0,407.8 C182.3,405.6 186.0,402.7 189.0,400.4 C192.0,398.1 194.7,395.6 197.2,393.8 C199.7,392.0 201.3,390.8 203.8,389.7 C206.3,388.6 209.0,387.5 212.0,387.2 C215.0,386.9 218.9,387.6 221.9,388.0 C224.9,388.4 226.9,389.0 229.9,389.7 C232.9,390.4 236.5,391.4 239.8,392.2 C243.1,393.0 246.4,394.4 249.7,394.3 C253.0,394.2 256.3,392.6 259.6,391.3 C262.9,390.0 266.2,387.8 269.5,386.4 C272.8,385.0 276.4,383.7 279.4,383.1 C282.4,382.6 284.9,382.4 287.6,383.1 C290.4,383.8 292.9,385.6 295.9,387.2 C298.9,388.8 302.5,391.6 305.8,393.0 C309.1,394.4 312.3,395.2 315.6,395.5 C318.9,395.8 322.2,395.3 325.5,394.6 C328.8,393.9 332.1,392.2 335.4,391.3 C338.7,390.4 342.0,388.9 345.3,388.9 C348.6,388.9 352.8,390.7 355.2,391.3 C357.6,391.9 357.2,392.5 359.5,392.5 C361.8,392.5 365.6,391.3 369.1,391.2 C372.6,391.1 376.8,391.7 380.6,392.0 C384.4,392.3 388.2,393.0 392.0,393.1 C395.8,393.2 400.0,393.1 403.5,392.5 C407.0,391.9 409.8,390.2 413.0,389.3 C416.2,388.4 419.4,387.4 422.6,387.4 C425.8,387.4 428.9,388.4 432.1,389.3 C435.3,390.2 438.8,391.5 441.7,392.5 C444.6,393.5 446.8,396.0 449.3,395.4 C451.9,394.8 454.4,391.1 457.0,388.7 C459.6,386.3 461.8,384.1 464.6,381.1 C467.5,378.1 471.4,374.0 474.1,370.6 C476.8,367.2 478.9,363.9 481.0,361.0 C483.1,358.1 484.8,355.3 487.0,353.5 C489.2,351.7 491.3,350.4 494.0,350.0 C496.7,349.6 500.3,350.4 503.4,351.2 C506.5,352.0 509.6,352.9 512.7,354.7 C515.8,356.4 518.9,359.2 522.0,361.7 C525.1,364.2 528.3,367.2 531.4,369.9 C534.5,372.6 537.6,376.6 540.7,378.0 C543.8,379.4 546.5,378.0 550.0,378.0 C553.5,378.0 558.3,377.4 561.8,378.0 C565.3,378.6 568.0,379.7 571.1,381.5 C574.2,383.3 577.3,386.1 580.4,388.6 C583.5,391.1 587.1,393.8 589.8,396.7 C592.5,399.6 594.5,402.8 596.8,406.1 C599.1,409.4 601.5,413.3 603.8,416.6 C606.1,419.9 608.5,423.2 610.8,425.9 C613.1,428.6 615.5,431.2 617.8,432.9 C620.1,434.6 622.8,435.6 624.8,436.0 C626.8,436.4 629.1,435.3 630.0,435.2" fill="none" stroke="#d22b3c" stroke-width="3.6" stroke-linecap="round" stroke-linejoin="round"/>
<path d="M632.0,429.0 C632.4,426.1 633.0,417.4 634.1,411.8 C635.2,406.2 637.2,399.8 638.8,395.3 C640.4,390.8 641.6,386.9 643.6,384.7 C645.6,382.5 648.2,382.2 650.6,381.9 C653.0,381.6 655.0,381.6 657.7,382.9 C660.5,384.1 663.6,386.5 667.1,389.4 C670.6,392.2 675.0,396.6 678.9,400.0 C682.8,403.4 686.8,406.6 690.7,409.5 C694.6,412.4 698.5,415.3 702.4,417.7 C706.3,420.1 710.3,421.8 714.2,423.6 C718.1,425.4 722.1,426.9 726.0,428.3 C729.9,429.7 731.9,430.4 737.8,431.8 C743.7,433.2 753.4,435.3 761.3,436.6 C769.1,437.9 777.4,438.8 784.9,439.6 C792.4,440.4 802.6,441.0 806.1,441.3" fill="none" stroke="#ff8515" stroke-width="2.9" stroke-dasharray="14 4 2.6 4"/>
<path d="M630.0,435.2 C630.7,434.1 632.2,432.2 634.1,428.3 C636.0,424.4 638.8,416.7 641.2,411.8 C643.6,406.9 645.9,402.2 648.3,398.9 C650.6,395.6 652.9,393.5 655.3,391.8 C657.6,390.1 660.0,389.1 662.4,388.7 C664.8,388.3 666.8,388.5 669.5,389.4 C672.2,390.3 675.4,392.0 678.9,394.2 C682.4,396.4 686.8,399.7 690.7,402.4 C694.6,405.1 698.5,408.1 702.4,410.6 C706.3,413.2 710.3,415.5 714.2,417.7 C718.1,419.9 722.1,421.8 726.0,423.6 C729.9,425.4 731.9,426.5 737.8,428.3 C743.7,430.1 753.4,432.4 761.3,434.2 C769.1,436.0 777.4,437.6 784.9,438.9 C792.4,440.1 802.6,441.2 806.1,441.7" fill="none" stroke="#d22b3c" stroke-width="2.9" stroke-dasharray="14 4 2.6 4"/>
<circle cx="205.5" cy="384.3" r="7.3" fill="#8a8a8a"/><circle cx="205.5" cy="384.3" r="2.8" fill="#000"/>
<circle cx="337.6" cy="385.1" r="7.3" fill="#8a8a8a"/><circle cx="337.6" cy="385.1" r="2.8" fill="#000"/>
<circle cx="545.9" cy="379.2" r="7.3" fill="#8a8a8a"/><circle cx="545.9" cy="379.2" r="2.8" fill="#000"/>
<g id="car">
  <path d="M154.3,223 L156,214.5 Q156.6,212 159,212 L171.7,212 Q173.5,212 174.8,214 L180.5,223 Z" fill="#26323c"/>
  <path d="M157,222 L158,215.2 Q158.4,213.6 160,213.6 L162.2,213.6 L162.2,222 Z" fill="#3a9aaa"/>
  <path d="M164.2,222 L164.2,213.6 L171,213.6 Q172.4,213.6 173.4,215.2 L177.6,222 Z" fill="#3a98ae"/>
  <rect x="152" y="222.5" width="35.8" height="13.5" rx="3" fill="#2ba2e8"/>
  <rect x="153" y="223" width="30" height="1.6" fill="#6cc6f2"/>
  <rect x="153" y="232.5" width="34" height="4.5" rx="1.5" fill="#3a4a5e"/>
  <circle cx="159.5" cy="237.2" r="4.6" fill="#262626"/>
  <circle cx="159.5" cy="237.2" r="2" fill="#a8a8a8"/>
  <circle cx="181.5" cy="237.2" r="4.6" fill="#262626"/>
  <circle cx="181.5" cy="237.2" r="2" fill="#a8a8a8"/>
</g>
<g id="scooter">
  <ellipse cx="266.2" cy="187.3" rx="5" ry="3.4" fill="#262626"/>
  <ellipse cx="266.6" cy="188.2" rx="2.6" ry="1.3" fill="#d8d8e0"/>
  <path d="M259,182.5 Q258.5,177.5 263.5,175.8 L276.5,175 L277.5,186.5 L271.5,186.5 Q267,184.2 262,185 Q259.2,184.6 259,182.5 Z" fill="#e3a01e"/>
  <path d="M264.2,176.3 Q264.4,171.8 268.5,171.5 L275.2,171.5 L275.2,176.5 Z" fill="#a8242a"/>
  <path d="M272,183 L284,182 L285,188.5 L272,189 Z" fill="#d99418"/>
  <path d="M279.3,164 L283,164 Q285,170 286.5,178 L281.2,183.5 L280,183.5 Z" fill="#e8a820"/>
  <path d="M279.6,165 L280.3,183" stroke="#4a3a20" stroke-width="0.9" fill="none"/>
  <path d="M280.5,177.5 Q288,173.5 292.8,177 L294.6,183.2 L283,183.5 Z" fill="#eaa822"/>
  <path d="M259.6,183 Q261,185 263,184.8 Q267,184 271.5,186.4 L277.5,186.4 L277.4,184 Z" fill="#c98a18"/>
  <path d="M277,161 Q278.5,157.3 282.5,157.6 Q285,158.5 284.5,161.5 L283.5,164.5 L279,164.5 Z" fill="#e6a61e"/>
  <rect x="276" y="162.5" width="3" height="1.8" fill="#333"/>
  <circle cx="288.5" cy="186" r="4.8" fill="#262626"/>
  <circle cx="288.5" cy="186" r="3" fill="#c4c6d0"/>
</g>
<g id="plane">
  <path d="M437.2,66.4 L441.5,65.8 L459.8,73 L454,79.6 L449,77.2 Z" fill="#3a9ee2"/>
  <path d="M462.2,77 L466.6,80.2 L469,97.6 L467,98.2 L457.2,83.2 Z" fill="#3a9ee2"/>
  <path d="M447.2,87.8 L437.4,85.3 L438.6,87.8 L446,92 Z" fill="#3a9ee2"/>
  <path d="M448.2,89 L449.6,98.6 L451.4,98 L450.8,88 Z" fill="#3a9ee2"/>
  <path d="M467.9,64.9 C468.9,63.4 471.6,63.0 472.3,64.0 C472.9,65.0 472.2,67.2 471.1,68.1 L465.9,74.2 L457.5,82.8 L450.2,89.4 L446.9,91.8 L444.7,89.8 L447.0,86.4 L453.5,78.8 L461.9,70.2 Z" fill="#e9e7ee" stroke="#8e8e98" stroke-width="0.8"/>
  <path d="M455,80 L459,76 L460.5,77.5 L456.5,81.5 Z" fill="#d9c8dc"/>
  <circle cx="446.7" cy="65.6" r="0.9" fill="#aaa"/>
  <circle cx="451.8" cy="67.2" r="0.9" fill="#aaa"/>
</g>

</svg>
</body></html>
